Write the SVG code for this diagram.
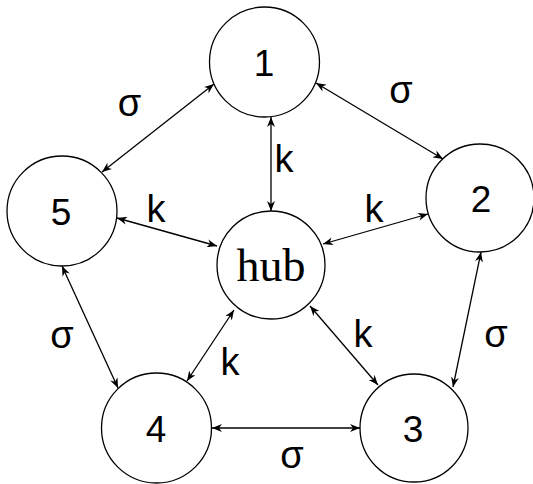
<svg xmlns="http://www.w3.org/2000/svg" width="533" height="484" viewBox="0 0 533 484">
<style>
.node{fill:#fff;stroke:#000;stroke-width:1.3}
.num{font-family:"Liberation Sans",Arial,sans-serif;font-size:37px;text-anchor:middle;fill:#000}
.hub{font-family:"Liberation Serif","Times New Roman",serif;font-size:46px;text-anchor:middle;fill:#000}
.lbl{font-family:"Liberation Sans",Arial,sans-serif;font-size:38px;text-anchor:middle;fill:#000}
.edge{stroke:#000;stroke-width:1.3;fill:none;marker-start:url(#arr);marker-end:url(#arr)}
</style>
<defs>
<marker id="arr" viewBox="0 0 10 8" refX="10" refY="4" markerWidth="10" markerHeight="8" markerUnits="userSpaceOnUse" orient="auto-start-reverse">
<path d="M0,0 L10,4 L0,8 L3,4 z" fill="#000"/>
</marker>
</defs>
<rect width="533" height="484" fill="#fff"/>
<g id="connectors">
<line class="edge" x1="214" y1="84" x2="102" y2="172"/>
<line class="edge" x1="316" y1="83" x2="443" y2="159"/>
<line class="edge" x1="271" y1="117" x2="271" y2="211"/>
<line class="edge" x1="117" y1="218" x2="217" y2="246"/>
<line class="edge" x1="428" y1="214" x2="323" y2="244"/>
<line class="edge" x1="62" y1="266" x2="118" y2="388"/>
<line class="edge" x1="481" y1="252" x2="453" y2="387"/>
<line class="edge" x1="234" y1="310" x2="187" y2="381"/>
<line class="edge" x1="310" y1="306" x2="378" y2="385"/>
<line class="edge" x1="212" y1="428" x2="360" y2="428"/>
</g>
<g id="labels">
<text class="lbl" x="129.5" y="116">σ</text>
<text class="lbl" x="401" y="103">σ</text>
<text class="lbl" x="284" y="172">k</text>
<text class="lbl" x="156" y="222">k</text>
<text class="lbl" x="374" y="222">k</text>
<text class="lbl" x="62" y="348">σ</text>
<text class="lbl" x="496" y="347">σ</text>
<text class="lbl" x="230" y="375">k</text>
<text class="lbl" x="363" y="347">k</text>
<text class="lbl" x="292" y="468">σ</text>
</g>
<g id="node1"><circle class="node" cx="264.5" cy="62" r="55"/><text class="num" x="264" y="76">1</text></g>
<g id="node2"><circle class="node" cx="480" cy="198" r="54"/><text class="num" x="481" y="212">2</text></g>
<g id="node3"><circle class="node" cx="414" cy="428" r="54"/><text class="num" x="413" y="442">3</text></g>
<g id="node4"><circle class="node" cx="156.5" cy="428" r="55"/><text class="num" x="156" y="442">4</text></g>
<g id="node5"><circle class="node" cx="62" cy="211" r="55"/><text class="num" x="61" y="225">5</text></g>
<g id="hub"><circle class="node" cx="271" cy="265" r="54"/><text class="hub" x="271" y="281">hub</text></g>
</svg>
